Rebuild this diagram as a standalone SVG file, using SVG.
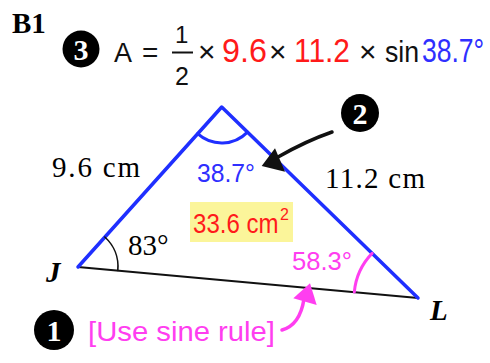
<svg xmlns="http://www.w3.org/2000/svg" width="490" height="363" viewBox="0 0 490 363">
<style>
.serif{font-family:"Liberation Serif","Times New Roman",serif;fill:#000}
.sans{font-family:"Liberation Sans",Arial,sans-serif}
.blk{fill:#111}
.red{fill:#ff1a1a}
.blue{fill:#2f2fff}
.pink{fill:#ff3ef0}
.badge circle{fill:#000}
.badge text{font-family:"Liberation Serif","Times New Roman",serif;font-weight:bold;fill:#fff;text-anchor:middle;font-size:30px}
</style>
<rect width="490" height="363" fill="#fff"/>
<g id="title">
<text class="serif" x="12" y="33" font-size="29" font-weight="bold">B1</text>
</g>
<g id="badge3" class="badge"><circle cx="81" cy="49" r="18.5"/><text x="81" y="59.5">3</text></g>
<g id="formula" class="sans">
<text class="blk" x="114" y="62" font-size="27">A</text>
<text class="blk" x="142" y="62" font-size="28">=</text>
<text class="blk" x="175" y="43" font-size="24">1</text>
<line x1="172" y1="52.5" x2="193" y2="52.5" stroke="#111" stroke-width="2"/>
<text class="blk" x="175" y="85" font-size="25">2</text>
<text class="blk" x="198" y="62" font-size="30">×</text>
<text class="red" transform="translate(222,62) scale(0.95,1)" font-size="34">9.6</text>
<text class="blk" x="269" y="62" font-size="30">×</text>
<text class="red" transform="translate(294,62) scale(0.88,1)" font-size="34">11.2</text>
<text class="blk" x="359" y="62" font-size="30">×</text>
<text class="blk" transform="translate(385,62) scale(0.89,1)" font-size="30">sin</text>
<text class="blue" transform="translate(422,62) scale(0.78,1)" font-size="34">38.7°</text>
</g>
<g id="triangle" fill="none" stroke-linecap="round">
<line x1="78" y1="267" x2="418" y2="298" stroke="#111" stroke-width="2"/>
<polyline points="78,267 221.7,107 418,298" stroke="#1f2fff" stroke-width="3.5" stroke-linejoin="round"/>
<path d="M197.6,133.7 A36,36 0 0 0 247.5,132.1" stroke="#1f2fff" stroke-width="3"/>
<path d="M104.8,237 A40,40 0 0 1 117.8,270.4" stroke="#111" stroke-width="1.6"/>
<path d="M372.1,253.4 A64,64 0 0 0 354.3,292.1" stroke="#ff3ef0" stroke-width="3"/>
</g>
<g id="labels">
<text class="serif" x="52" y="177" font-size="29" textLength="88">9.6 cm</text>
<text class="serif" x="325" y="188" font-size="29" textLength="100">11.2 cm</text>
<text class="serif" x="128" y="255" font-size="29">83°</text>
<text class="serif" x="46" y="282" font-size="29" font-style="italic" font-weight="bold">J</text>
<text class="serif" x="430" y="320" font-size="29" font-style="italic" font-weight="bold">L</text>
<text class="sans blue" x="197" y="182" font-size="25" textLength="58" lengthAdjust="spacingAndGlyphs">38.7°</text>
<text class="sans pink" x="292" y="270" font-size="26" textLength="60" lengthAdjust="spacingAndGlyphs">58.3°</text>
</g>
<g id="area">
<rect x="190" y="202" width="103" height="40" fill="#fbf59a"/>
<text class="sans red" transform="translate(193,233) scale(0.86,1)" font-size="28">33.6 cm</text>
<text class="sans red" x="280" y="220" font-size="16">2</text>
</g>
<g id="badge2" class="badge"><circle cx="360" cy="113" r="19"/><text x="360" y="123.5">2</text></g>
<g id="badge1" class="badge"><circle cx="54" cy="330" r="20"/><text x="54" y="340.5">1</text></g>
<g id="note">
<text class="sans pink" x="88" y="341" font-size="28" textLength="187" lengthAdjust="spacingAndGlyphs">[Use sine rule]</text>
</g>
<g id="connectors">
<path d="M332,132 Q306,141 278,157" fill="none" stroke="#111" stroke-width="3.5" stroke-linecap="round"/>
<polygon points="261.7,166 275,148.3 285,171.7" fill="#111"/>
<path d="M282,330 C293,327 301,318 304,299" fill="none" stroke="#ff3ef0" stroke-width="3.5" stroke-linecap="round"/>
<polygon points="310,283.3 293.3,298.3 316.7,305" fill="#ff3ef0"/>
</g>
</svg>
